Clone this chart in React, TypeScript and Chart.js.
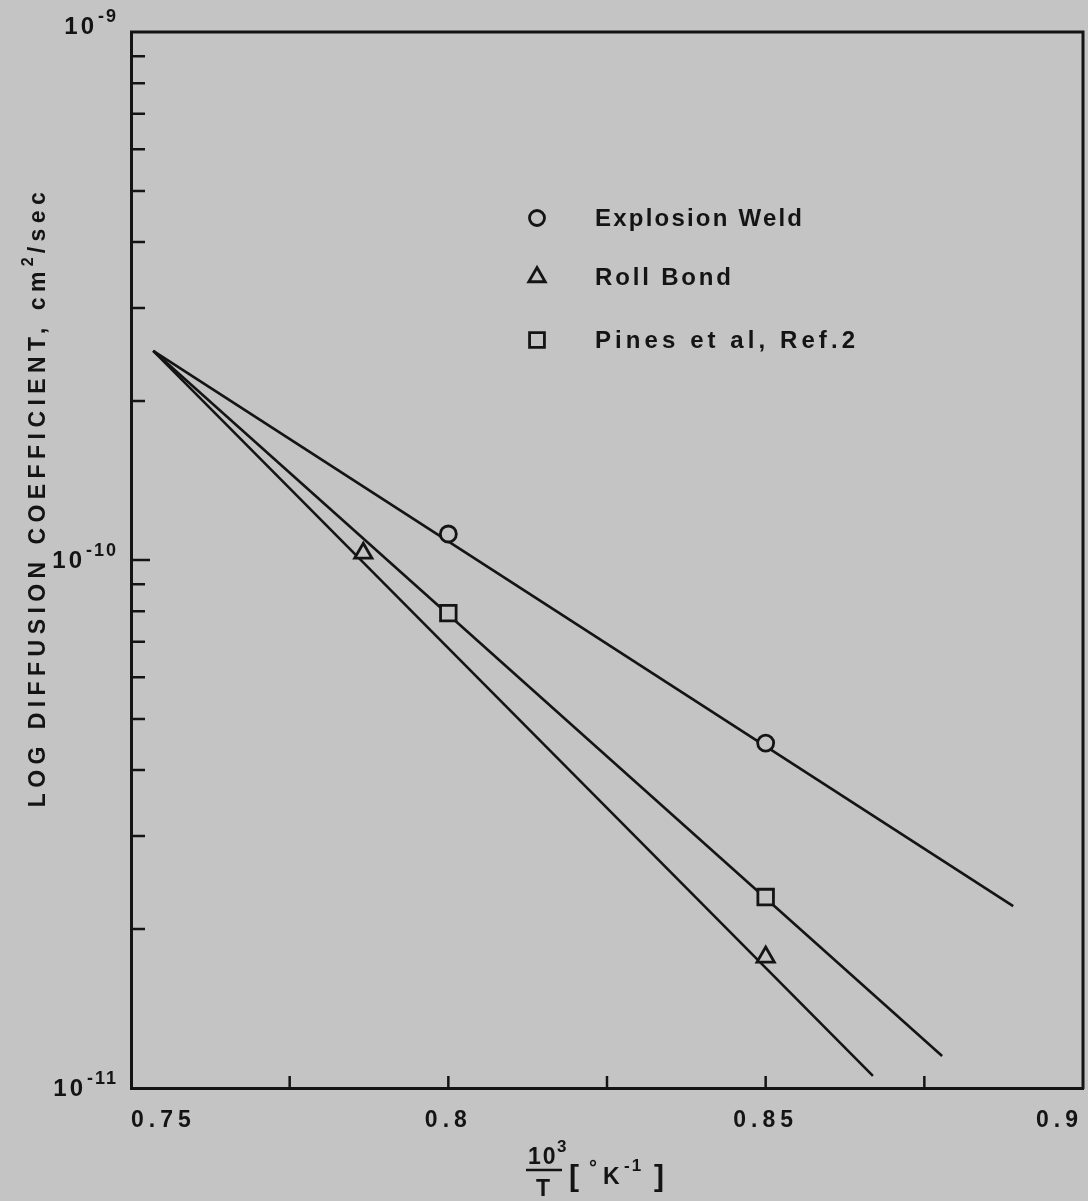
import React, { useEffect, useRef } from "react";
import { Chart, registerables } from "chart.js";
import { drawPoint } from "chart.js/helpers";

Chart.register(...registerables);

const BG = "#c4c4c4";
const INK = "#141414";
const FONT = "'Liberation Sans', 'DejaVu Sans', sans-serif";

// axes
const xRange = [0.75, 0.9];
const yRange = [1e-11, 1e-9];
const xTickLabels = [0.75, 0.8, 0.85, 0.9];
const xTickMarks = [0.775, 0.8, 0.825, 0.85, 0.875];
const yDecades = [1e-11, 1e-10, 1e-9];
const yDecadeExponents = ["-11", "-10", "-9"];
const yMajorMarks = [1e-10];
const yMinorMarks = [
  2e-11, 3e-11, 4e-11, 5e-11, 6e-11, 7e-11, 8e-11, 9e-11,
  2e-10, 3e-10, 4e-10, 5e-10, 6e-10, 7e-10, 8e-10, 9e-10,
];

// series
const seriesNames = ["Explosion Weld", "Roll Bond", "Pines et al, Ref.2"];
const seriesStyles = ["circle", "triangle", "rect"];
const seriesRadius = [8, 10, 11];

const explosionWeldX = [0.8, 0.85];
const explosionWeldY = [1.12e-10, 4.5e-11];
const rollBondX = [0.7866, 0.85];
const rollBondY = [1.03e-10, 1.77e-11];
const pinesX = [0.8, 0.85];
const pinesY = [7.93e-11, 2.3e-11];

// fitted lines (end points)
const explosionFitX = [0.7535, 0.889];
const explosionFitY = [2.49e-10, 2.21e-11];
const rollFitX = [0.7535, 0.8669];
const rollFitY = [2.49e-10, 1.054e-11];
const pinesFitX = [0.7535, 0.8778];
const pinesFitY = [2.49e-10, 1.15e-11];

const pts = (xs: number[], ys: number[]) => xs.map((x, i) => ({ x, y: ys[i] }));

function fitText(ctx: CanvasRenderingContext2D, text: string, target: number) {
  ctx.letterSpacing = "0px";
  const w = ctx.measureText(text).width;
  const ls = text.length > 1 ? (target - w) / (text.length - 1) : 0;
  ctx.letterSpacing = `${ls}px`;
  return ls;
}

const decorPlugin = {
  id: "decor",
  beforeDraw(chart: any) {
    const ctx = chart.ctx as CanvasRenderingContext2D;
    ctx.save();
    ctx.fillStyle = BG;
    ctx.fillRect(0, 0, chart.width, chart.height);
    ctx.restore();
    ctx.letterSpacing = "5px";
  },
  afterDraw(chart: any) {
    const ctx = chart.ctx as CanvasRenderingContext2D;
    const a = chart.chartArea;
    const xs = chart.scales.x;
    const ys = chart.scales.y;
    ctx.save();
    ctx.strokeStyle = INK;
    ctx.fillStyle = INK;
    ctx.lineCap = "butt";
    // top and right frame
    ctx.lineWidth = 3;
    ctx.beginPath();
    ctx.moveTo(a.left - 1, a.top);
    ctx.lineTo(a.right, a.top);
    ctx.lineTo(a.right, a.bottom + 1);
    ctx.stroke();
    // inward tick marks
    ctx.lineWidth = 2.5;
    ctx.beginPath();
    for (const v of xTickMarks) {
      const px = xs.getPixelForValue(v);
      ctx.moveTo(px, a.bottom);
      ctx.lineTo(px, a.bottom - 12);
    }
    for (const v of yMinorMarks) {
      const py = ys.getPixelForValue(v);
      ctx.moveTo(a.left, py);
      ctx.lineTo(a.left + 14, py);
    }
    for (const v of yMajorMarks) {
      const py = ys.getPixelForValue(v);
      ctx.moveTo(a.left, py);
      ctx.lineTo(a.left + 19, py);
    }
    ctx.stroke();

    // y decade labels
    ctx.textBaseline = "middle";
    ctx.textAlign = "left";
    yDecades.forEach((v, i) => {
      const py = ys.getPixelForValue(v);
      const exp = yDecadeExponents[i];
      ctx.font = `bold 24px ${FONT}`;
      ctx.letterSpacing = "3px";
      const wb = ctx.measureText("10").width;
      ctx.font = `bold 18px ${FONT}`;
      ctx.letterSpacing = "2px";
      const we = ctx.measureText(exp).width;
      const x0 = a.left - 14 - wb - we;
      const dy = i === 2 ? -5 : 1;
      ctx.font = `bold 24px ${FONT}`;
      ctx.letterSpacing = "3px";
      ctx.fillText("10", x0, py + dy);
      ctx.font = `bold 18px ${FONT}`;
      ctx.letterSpacing = "2px";
      ctx.fillText(exp, x0 + wb + 1, py + dy - 10);
    });

    // legend
    ctx.textBaseline = "middle";
    const legendRows = [218, 277, 340];
    const legendTargets = [207, 136, 260];
    chart.data.datasets.slice(0, 3).forEach((ds: any, i: number) => {
      const y = legendRows[i];
      ctx.save();
      ctx.fillStyle = BG;
      ctx.strokeStyle = INK;
      ctx.lineWidth = 2.8;
      drawPoint(ctx, { pointStyle: ds.pointStyle, radius: seriesRadius[i] - 0.5, borderWidth: 2.8, rotation: 0 } as any, 537, y);
      ctx.restore();
      ctx.font = `bold 24px ${FONT}`;
      fitText(ctx, ds.label, legendTargets[i]);
      ctx.fillText(ds.label, 595, y + 1);
    });

    // y axis title
    ctx.save();
    ctx.translate(45, 497);
    ctx.rotate(-Math.PI / 2);
    ctx.textBaseline = "alphabetic";
    const main = "LOG DIFFUSION COEFFICIENT, cm";
    const tail = "/sec";
    ctx.font = `bold 16px ${FONT}`;
    ctx.letterSpacing = "2px";
    const ws = ctx.measureText("2").width + 2;
    ctx.font = `bold 23px ${FONT}`;
    const ls = fitText(ctx, main + tail, 615 - ws);
    const wm = ctx.measureText(main).width;
    const wt = ctx.measureText(tail).width;
    const total = wm + ws + wt;
    let cx = -total / 2;
    ctx.fillText(main, cx, 0);
    cx += wm;
    ctx.font = `bold 16px ${FONT}`;
    ctx.letterSpacing = "2px";
    ctx.fillText("2", cx, -12);
    cx += ws;
    ctx.font = `bold 23px ${FONT}`;
    ctx.letterSpacing = `${ls}px`;
    ctx.fillText(tail, cx, 0);
    ctx.restore();

    // x axis title: 10^3 / T [ °K^-1 ]
    ctx.textBaseline = "alphabetic";
    ctx.textAlign = "left";
    ctx.font = `bold 23px ${FONT}`;
    ctx.letterSpacing = "2px";
    ctx.fillText("10", 528, 1164);
    ctx.font = `bold 17px ${FONT}`;
    ctx.fillText("3", 557, 1152);
    ctx.lineWidth = 2.6;
    ctx.beginPath();
    ctx.moveTo(526, 1170);
    ctx.lineTo(562, 1170);
    ctx.stroke();
    ctx.font = `bold 23px ${FONT}`;
    ctx.fillText("T", 536, 1196);
    ctx.font = `bold 30px ${FONT}`;
    ctx.fillText("[", 569, 1186);
    ctx.fillText("]", 654, 1186);
    ctx.font = `bold 20px ${FONT}`;
    ctx.fillText("°", 589, 1174);
    ctx.font = `bold 23px ${FONT}`;
    ctx.fillText("K", 603, 1184);
    ctx.font = `bold 17px ${FONT}`;
    ctx.fillText("-1", 624, 1171);
    ctx.restore();
  },
};

export default function App() {
  const ref = useRef<HTMLCanvasElement | null>(null);
  useEffect(() => {
    document.body.style.margin = "0";
    document.body.style.background = BG;
    const canvas = ref.current!;
    const markerSets = [
      [explosionWeldX, explosionWeldY],
      [rollBondX, rollBondY],
      [pinesX, pinesY],
    ].map(([xs, ys], i) => ({
      label: seriesNames[i],
      data: pts(xs, ys),
      showLine: false,
      pointStyle: seriesStyles[i],
      pointRadius: seriesRadius[i],
      pointBorderWidth: 2.8,
      pointBorderColor: INK,
      pointBackgroundColor: BG,
      order: 0,
    }));
    const lineSets = [
      [explosionFitX, explosionFitY],
      [rollFitX, rollFitY],
      [pinesFitX, pinesFitY],
    ].map(([xs, ys], i) => ({
      label: seriesNames[i] + " fit",
      data: pts(xs, ys),
      showLine: true,
      borderColor: INK,
      borderWidth: 2.6,
      pointRadius: 0,
      fill: false,
      order: 1,
    }));
    const chart = new Chart(canvas, {
      type: "line",
      data: { datasets: [...markerSets, ...lineSets] as any },
      options: {
        animation: false,
        responsive: false,
        devicePixelRatio: 1,
        layout: { autoPadding: false, padding: { left: 0, right: 5, top: 32, bottom: 0 } },
        plugins: { legend: { display: false }, tooltip: { enabled: false }, title: { display: false } },
        scales: {
          x: {
            type: "linear",
            min: xRange[0],
            max: xRange[1],
            afterFit: (s: any) => {
              s.height = 113;
              s.paddingLeft = 0;
              s.paddingRight = 0;
            },
            afterBuildTicks: (s: any) => { s.ticks = xTickLabels.map((v) => ({ value: v })); },
            grid: { display: false, drawTicks: false },
            border: { display: true, color: INK, width: 3 },
            ticks: {
              color: INK,
              padding: 19,
              align: "inner",
              font: { family: FONT, size: 23, weight: "bold" },
              maxRotation: 0,
              autoSkip: false,
              callback: (v: any) => String(Math.round(Number(v) * 1000) / 1000),
            },
          },
          y: {
            type: "logarithmic",
            min: yRange[0],
            max: yRange[1],
            afterFit: (s: any) => {
              s.width = 131;
              s.paddingTop = 0;
              s.paddingBottom = 0;
            },
            grid: { display: false, drawTicks: false },
            border: { display: true, color: INK, width: 3 },
            ticks: { display: false },
          },
        },
      },
      plugins: [decorPlugin],
    });
    return () => chart.destroy();
  }, []);
  return (
    <div style={{ position: "fixed", left: 0, top: 0, width: 1088, height: 1201, background: BG }}>
      <canvas ref={ref} width={1088} height={1201} style={{ width: 1088, height: 1201, display: "block" }} />
    </div>
  );
}
